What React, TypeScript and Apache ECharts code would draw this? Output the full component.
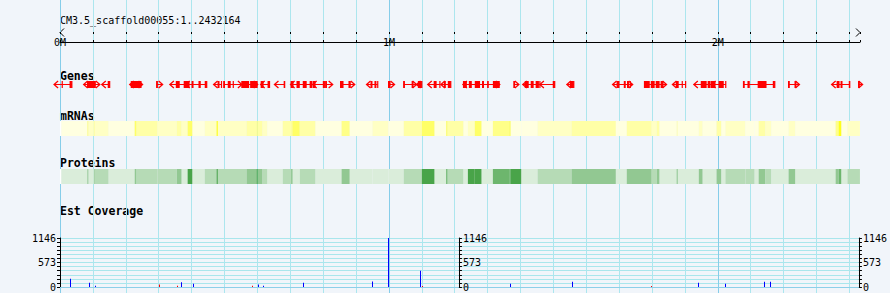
import React, { useEffect, useRef } from 'react';
import * as echarts from 'echarts';

// ---------- data (positions in kb) ----------
const SCAFFOLD_TITLE = 'CM3.5_scaffold00055:1..2432164';
const SCAFFOLD_KB = 2432.164;
const TRACK_LABELS = ['Genes', 'mRNAs', 'Proteins', 'Est Coverage'];
const COVERAGE_LABELS = [0, 573, 1146];
const COVERAGE_MAX = 1146;

// [start, end, strand, exons]
const genes: [number, number, number, number[][]][] = [
  [-18, 36, -1, [[5, 8], [29, 36]]],
  [72, 102, -1, [[82, 102]]],
  [99, 121, 1, [[99, 109]]],
  [127, 151, -1, [[145, 151]]],
  [212, 233, -1, [[215, 233]]],
  [230, 251, 1, [[233, 248]]],
  [294, 312, 1, [[294, 297]]],
  [334, 382, -1, [[352, 364], [376, 382]]],
  [382, 446, -1, [[382, 394], [400, 406], [421, 428], [440, 446]]],
  [467, 491, -1, [[479, 485]]],
  [498, 553, 1, [[498, 501], [510, 519], [525, 528]]],
  [553, 601, 1, [[553, 575], [578, 601]]],
  [610, 637, -1, [[610, 619], [631, 637]]],
  [652, 683, -1, [[680, 683]]],
  [701, 765, -1, [[701, 710], [719, 729], [738, 750], [759, 765]]],
  [768, 805, -1, [[768, 777], [799, 805]]],
  [808, 829, 1, [[808, 811]]],
  [853, 896, 1, [[853, 862], [877, 884]]],
  [932, 966, -1, [[944, 950], [956, 962]]],
  [999, 1017, 1, [[999, 1005]]],
  [1045, 1084, 1, [[1045, 1048], [1069, 1075]]],
  [1084, 1100, -1, [[1088, 1100]]],
  [1118, 1155, -1, [[1136, 1145]]],
  [1158, 1188, -1, [[1167, 1173], [1179, 1188]]],
  [1225, 1301, -1, [[1225, 1237], [1243, 1252], [1261, 1277], [1283, 1289]]],
  [1301, 1337, 1, [[1316, 1337]]],
  [1380, 1395, 1, [[1380, 1383]]],
  [1407, 1459, -1, [[1413, 1425], [1431, 1440], [1446, 1456]]],
  [1459, 1504, -1, [[1498, 1504]]],
  [1541, 1562, -1, [[1550, 1562]]],
  [1680, 1726, -1, [[1692, 1701], [1714, 1720]]],
  [1726, 1741, 1, [[1726, 1729], [1732, 1735]]],
  [1777, 1844, 1, [[1777, 1793], [1796, 1808], [1811, 1823], [1826, 1835]]],
  [1862, 1902, -1, [[1872, 1881], [1890, 1893]]],
  [1927, 1981, -1, [[1948, 1966], [1969, 1978]]],
  [1981, 2024, -1, [[1981, 1993], [2002, 2018]]],
  [2078, 2173, 0, [[2078, 2081], [2090, 2097], [2121, 2148], [2167, 2173]]],
  [2215, 2248, 1, [[2215, 2218], [2233, 2239]]],
  [2346, 2401, -1, [[2361, 2370], [2373, 2379], [2398, 2401]]],
  [2428, 2440, 1, [[2428, 2431]]],
];

// [start, end, mRNA level, protein level]
const segments: number[][] = [
  [0, 4, -1, -1], [4, 83, 0, 0], [83, 87, 3, 2], [87, 103, 1, 0], [103, 105, 3, 2],
  [105, 148, 1, 1], [148, 227, 0, 0], [227, 233, 4, 2], [233, 297, 2, 1], [297, 355, 1, 1],
  [355, 370, 2, 2], [370, 388, 1, 0], [388, 403, 4, 4], [403, 440, 0, 0], [440, 476, 1, 1],
  [476, 480, 5, 4], [480, 567, 1, 1], [567, 598, 2, 2], [598, 601, 4, 5], [601, 616, 2, 2],
  [616, 631, 1, 1], [631, 677, 0, 0], [677, 704, 2, 1], [704, 707, 4, 4], [707, 729, 4, 0],
  [729, 777, 2, 1], [777, 856, 0, 0], [856, 881, 3, 2], [881, 950, 0, 0], [950, 999, 1, 0],
  [999, 1045, 0, 0], [1045, 1100, 2, 1], [1100, 1139, 4, 4], [1139, 1175, 0, 0], [1175, 1178, 5, 5],
  [1178, 1227, 2, 1], [1227, 1240, 0, 0], [1240, 1261, 1, 4], [1261, 1282, 4, 4], [1282, 1316, 0, 0],
  [1316, 1367, 3, 3], [1367, 1370, 5, 4], [1370, 1403, 0, 4], [1403, 1452, 0, 0], [1452, 1555, 1, 1],
  [1555, 1690, 2, 2], [1690, 1723, 0, 0], [1723, 1799, 2, 2], [1799, 1814, 1, 1], [1814, 1823, 2, 2],
  [1823, 1875, 0, 0], [1875, 1878, 2, 3], [1878, 1942, 0, 0], [1942, 1954, 1, 2], [1954, 1996, 0, 0],
  [1996, 2011, 2, 2], [2011, 2023, 0, 0], [2023, 2084, 1, 1], [2084, 2112, 0, 1], [2112, 2124, 0, 0],
  [2124, 2145, 2, 2], [2145, 2163, 1, 1], [2163, 2215, 0, 0], [2215, 2236, 1, 2], [2236, 2358, 0, 0],
  [2358, 2367, 3, 2], [2367, 2376, 5, 3], [2376, 2394, 0, 0], [2394, 2432, 1, 1],
];

// [position kb, coverage]
const estBlue = [
  [30, 195], [88, 100], [106, 30], [368, 110], [404, 75], [602, 60], [617, 30], [739, 100],
  [950, 130], [1000, 1146], [1097, 380], [1371, 75], [1559, 125], [1942, 100], [2025, 75],
  [2143, 125], [2161, 125],
];
const estRed = [[300, 60], [356, 30], [584, 30], [1103, 25], [1800, 25]];

// ---------- styles ----------
const BG = '#f1f5fa';
const MINOR_V = '#ace6ee';
const MAJOR_V = '#86cde9';
const RED = '#ff0000';
const MRNA_COLORS: Record<string, string> = {
  '-1': '#ffffff', '0': '#ffffe0', '1': '#ffffc4', '2': '#ffffa6', '3': '#ffff88', '4': '#ffff66', '5': '#ffff1a',
};
const PROT_COLORS: Record<string, string> = {
  '-1': '#ffffff', '0': '#daedda', '1': '#b6dbb6', '2': '#92c892', '3': '#6db66d', '4': '#49a449', '5': '#1f901f',
};
const MONO = '"DejaVu Sans Mono", monospace';
const GENE_Y = 84.5;
const MRNA_Y = 121;
const PROT_Y = 169;
const BAR_H = 15;
const LEFT = 60;
const RIGHT = 30;

function geneItem(params: any, api: any) {
  const g = genes[params.dataIndex];
  const xs = api.coord([g[0], 0])[0];
  const xe = api.coord([g[1], 0])[0];
  const children: any[] = [
    { type: 'line', shape: { x1: xs, y1: GENE_Y, x2: xe, y2: GENE_Y }, style: { stroke: RED, lineWidth: 1 } },
  ];
  for (const ex of g[3]) {
    const xa = api.coord([ex[0], 0])[0];
    const xb = api.coord([ex[1], 0])[0];
    children.push({
      type: 'rect',
      shape: { x: xa, y: GENE_Y - 3.5, width: Math.max(1.2, xb - xa), height: 7 },
      style: { fill: RED },
    });
  }
  const tick = (x: number) => ({
    type: 'line', shape: { x1: x, y1: GENE_Y - 3.5, x2: x, y2: GENE_Y + 3.5 }, style: { stroke: RED, lineWidth: 1.2 },
  });
  if (g[2] < 0) {
    children.push({
      type: 'polyline',
      shape: { points: [[xs + 4, GENE_Y - 3.5], [xs, GENE_Y], [xs + 4, GENE_Y + 3.5]] },
      style: { stroke: RED, lineWidth: 1.3, fill: null },
    });
    children.push(tick(xe));
  } else if (g[2] > 0) {
    children.push({
      type: 'polyline',
      shape: { points: [[xe - 4, GENE_Y - 3.5], [xe, GENE_Y], [xe - 4, GENE_Y + 3.5]] },
      style: { stroke: RED, lineWidth: 1.3, fill: null },
    });
    children.push(tick(xs));
  } else {
    children.push(tick(xs));
    children.push(tick(xe));
  }
  return { type: 'group', children };
}

function segItem(y: number, colors: Record<string, string>, col: number) {
  return (params: any, api: any) => {
    const s = segments[params.dataIndex];
    const xa = api.coord([s[0], 0])[0];
    const xb = api.coord([s[1], 0])[0];
    return {
      type: 'rect',
      shape: { x: xa, y, width: Math.max(1, xb - xa), height: BAR_H },
      style: { fill: colors[String(s[col])] },
    };
  };
}

function covItem(list: number[][], color: string) {
  return (params: any, api: any) => {
    const d = list[params.dataIndex];
    const p0 = api.coord([d[0], 0]);
    const p1 = api.coord([d[0], d[1]]);
    return {
      type: 'rect',
      shape: { x: Math.round(p0[0]), y: p1[1], width: 1, height: p0[1] - p1[1] },
      style: { fill: color },
    };
  };
}

const covAxis = (position: string, offset: number, split: boolean) => ({
  gridIndex: 2,
  type: 'value',
  position,
  offset,
  min: 0,
  max: COVERAGE_MAX,
  interval: COVERAGE_MAX / 12,
  axisLine: { show: true, lineStyle: { color: '#000', width: 1 } },
  axisTick: { show: true, length: 3, lineStyle: { color: '#000' } },
  axisLabel: {
    show: true,
    margin: 4,
    color: '#000',
    fontFamily: MONO,
    fontSize: 10,
    formatter: (v: number) => (COVERAGE_LABELS.includes(Math.round(v)) ? String(Math.round(v)) : ''),
  },
  splitLine: { show: split, lineStyle: { color: '#a9e6ec', width: 1 } },
});

export default function App() {
  const ref = useRef<HTMLDivElement>(null);
  useEffect(() => {
    document.body.style.margin = '0';
    const chart = echarts.init(ref.current!, undefined, { renderer: 'svg' });
    const xBase = { type: 'value', min: 0, max: SCAFFOLD_KB };
    const labelY = [76, 115.5, 163, 211];
    chart.setOption({
      animation: false,
      backgroundColor: BG,
      grid: [
        { left: LEFT, right: RIGHT, top: 0, bottom: 0 },
        { left: LEFT, right: RIGHT, top: 32, height: 10 },
        { left: LEFT, right: RIGHT, top: 238, height: 49 },
      ],
      xAxis: [
        {
          ...xBase, gridIndex: 0, interval: 100,
          axisLine: { show: false }, axisTick: { show: false }, axisLabel: { show: false },
          splitLine: { show: true, showMaxLine: false, lineStyle: { color: MINOR_V, width: 1 } },
        },
        {
          ...xBase, gridIndex: 1, position: 'top', interval: 100,
          axisLine: { show: true, lineStyle: { color: '#000', width: 1 } },
          axisTick: { show: true, length: 2, lineStyle: { color: '#000' } },
          axisLabel: { show: false }, splitLine: { show: false },
        },
        {
          ...xBase, gridIndex: 1, position: 'top', interval: 100,
          axisLine: { show: false },
          axisTick: { show: true, inside: true, length: 2, lineStyle: { color: '#000' } },
          axisLabel: {
            show: true, inside: true, margin: 5, color: '#000', fontFamily: MONO, fontSize: 10,
            formatter: (v: number) => (Math.abs(v % 1000) < 1e-6 ? v / 1000 + 'M' : ''),
          },
          splitLine: { show: false },
        },
        {
          ...xBase, gridIndex: 2,
          axisLine: { show: true, onZero: false, lineStyle: { color: '#8ccfe9', width: 1 } },
          axisTick: { show: false }, axisLabel: { show: false }, splitLine: { show: false },
        },
        {
          ...xBase, gridIndex: 0, interval: 1000,
          axisLine: { show: false }, axisTick: { show: false }, axisLabel: { show: false },
          splitLine: { show: true, showMaxLine: false, lineStyle: { color: MAJOR_V, width: 1 } },
        },
      ],
      yAxis: [
        { gridIndex: 0, type: 'value', min: 0, max: 1, show: false },
        { gridIndex: 1, type: 'value', min: 0, max: 1, show: false },
        covAxis('left', 0, true),
        covAxis('right', -400, false),
        covAxis('right', 0, false),
      ],
      graphic: [
        {
          type: 'text', x: LEFT, y: 20.5,
          style: { text: SCAFFOLD_TITLE, fill: '#000', font: `10px ${MONO}`, verticalAlign: 'middle' },
        },
        ...TRACK_LABELS.map((t, i) => ({
          type: 'text', x: LEFT, y: labelY[i],
          style: { text: t, fill: '#000', font: `bold 11.5px ${MONO}`, verticalAlign: 'middle' },
        })),
        {
          type: 'polyline', shape: { points: [[LEFT + 4, 28.5], [LEFT, 32.5], [LEFT + 4, 36.5]] },
          style: { stroke: '#000', lineWidth: 1, fill: null },
        },
        {
          type: 'polyline', shape: { points: [[890 - RIGHT - 4, 28.5], [890 - RIGHT, 32.5], [890 - RIGHT - 4, 36.5]] },
          style: { stroke: '#000', lineWidth: 1, fill: null },
        },
      ],
      series: [
        {
          type: 'custom', xAxisIndex: 0, yAxisIndex: 0, renderItem: segItem(MRNA_Y, MRNA_COLORS, 2),
          data: segments.map((s) => [s[0], s[1], 0]), encode: { x: [0, 1], y: 2 },
        },
        {
          type: 'custom', xAxisIndex: 0, yAxisIndex: 0, renderItem: segItem(PROT_Y, PROT_COLORS, 3),
          data: segments.map((s) => [s[0], s[1], 0]), encode: { x: [0, 1], y: 2 },
        },
        {
          type: 'custom', xAxisIndex: 0, yAxisIndex: 0, renderItem: geneItem,
          data: genes.map((g) => [g[0], g[1], 0]), encode: { x: [0, 1], y: 2 },
        },
        {
          type: 'custom', xAxisIndex: 3, yAxisIndex: 2, renderItem: covItem(estBlue, '#0000ff'),
          data: estBlue, encode: { x: 0, y: 1 },
        },
        {
          type: 'custom', xAxisIndex: 3, yAxisIndex: 2, renderItem: covItem(estRed, RED),
          data: estRed, encode: { x: 0, y: 1 },
        },
      ],
    });
    return () => chart.dispose();
  }, []);
  return (
    <div
      ref={ref}
      style={{ position: 'absolute', left: 0, top: 0, width: 890, height: 293 }}
    />
  );
}
